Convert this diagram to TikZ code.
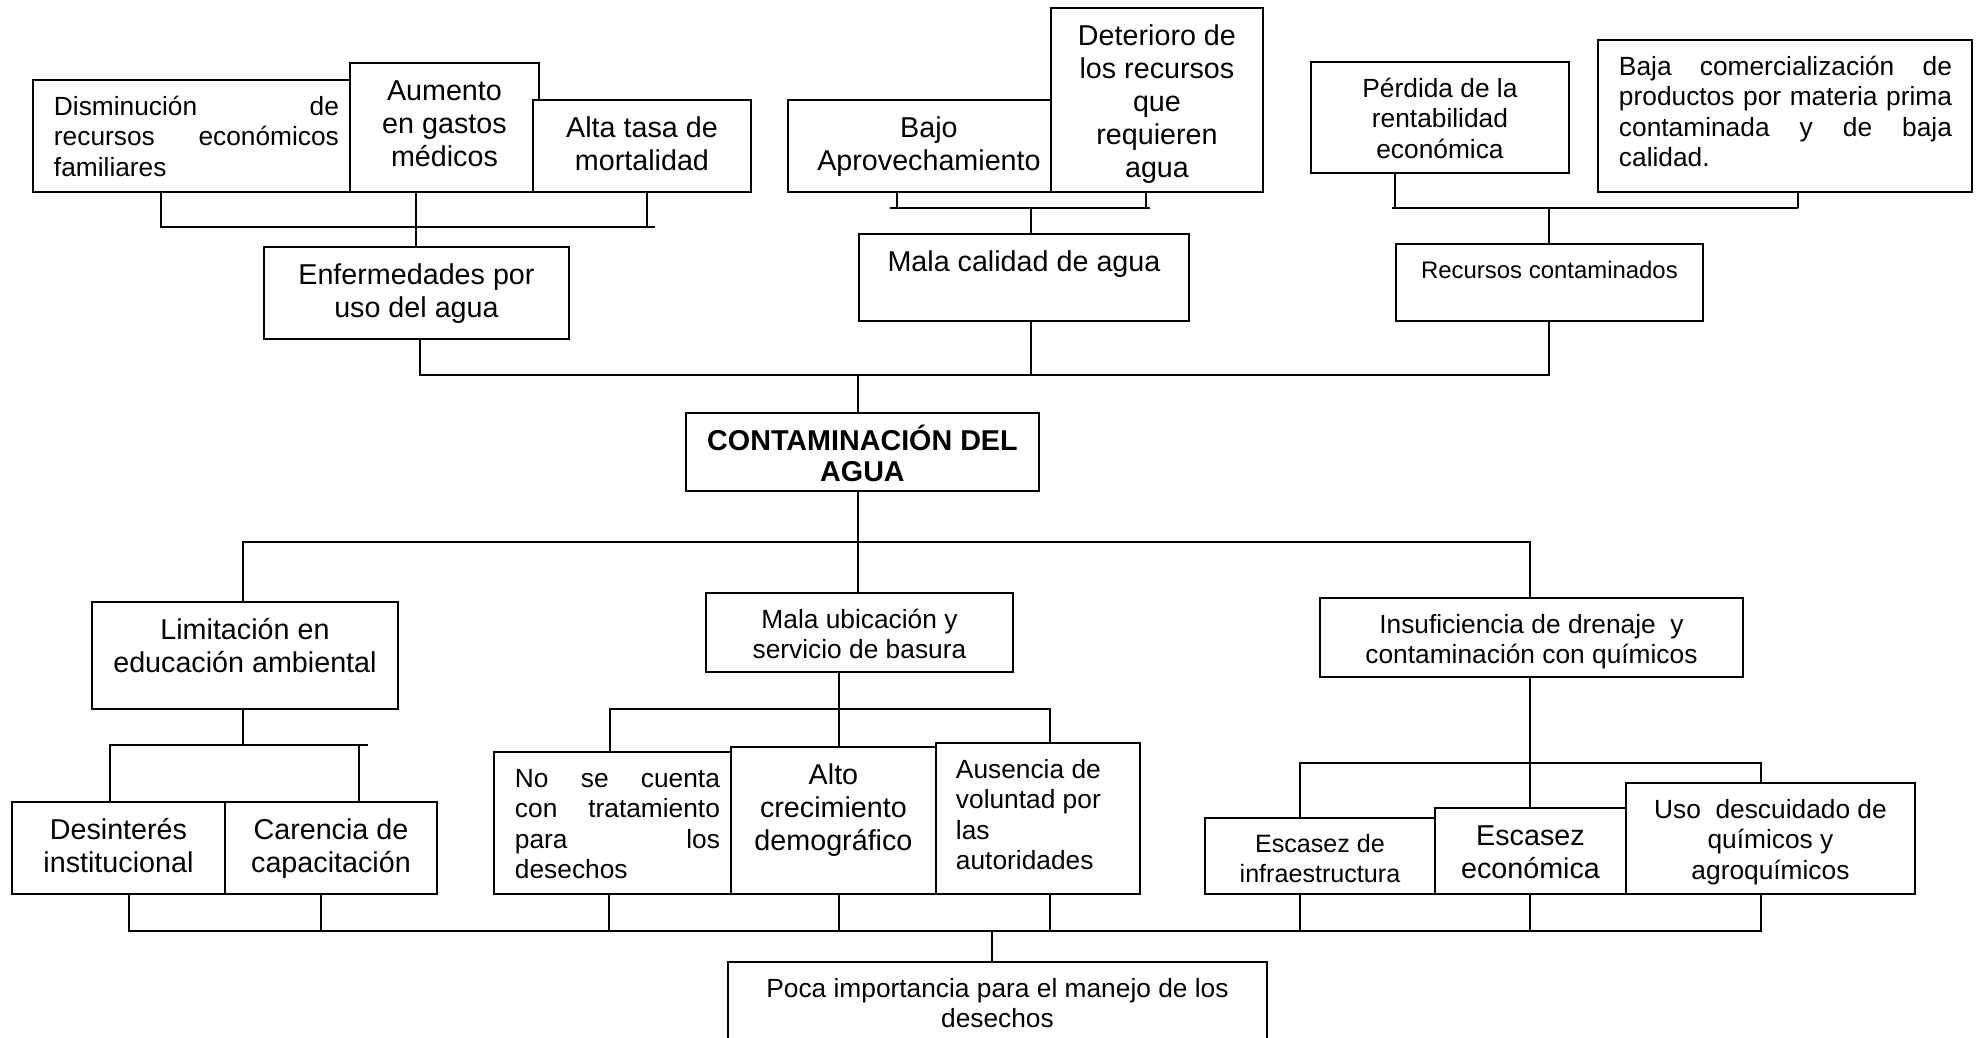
\documentclass[tikz,border=0pt]{standalone}
\usepackage{fontspec}
\setmainfont{Liberation Sans}
\newlength{\px}
\setlength{\px}{0.418pt}
\newcommand{\cbox}[3]{\parbox[c][#2\px][t]{#1\px}{\centering\rule{0pt}{\dimexpr17\px+0.716em\relax}#3}}
\newcommand{\jbox}[5]{\parbox[c][#2\px][t]{#1\px}{\hspace*{#3\px}\parbox[t]{#4\px}{\rule{0pt}{\dimexpr17\px+0.716em\relax}#5}}}

\begin{document}
\begin{tikzpicture}[
    x=0.418pt, y=-0.418pt,
    line width=0.8pt,
    box/.style={draw, fill=white, inner sep=0pt, anchor=north west},
    bigtext/.style={font=\fontsize{12}{13.8}\selectfont},
    midtext/.style={font=\fontsize{11}{12.6}\selectfont},
    smalltext/.style={font=\fontsize{10.5}{12.5}\selectfont},
    tinytext/.style={font=\fontsize{10}{12.5}\selectfont},
    titletext/.style={font=\fontsize{12}{13}\selectfont\bfseries}
]
\clip (0,0) rectangle (1978,1037);

\node[box, midtext] (disminucion) at (32,79) {\jbox{326}{112}{21}{285}{Disminución\hfill de\\recursos\hfill económicos\\familiares}};
\node[box, bigtext] (aumento_gastos) at (349,62) {\cbox{189}{129}{Aumento\\en gastos\\médicos}};
\node[box, bigtext] (alta_mortalidad) at (532,99) {\cbox{218}{92}{Alta tasa de\\mortalidad}};
\node[box, bigtext] (enfermedades) at (263,246) {\cbox{305}{92}{Enfermedades por\\uso del agua}};

\node[box, bigtext] (bajo_aprov) at (787,99) {\cbox{282}{92}{Bajo\\Aprovechamiento}};
\node[box, bigtext] (deterioro) at (1050,7) {\cbox{212}{184}{Deterioro de\\los recursos\\que\\requieren\\agua}};
\node[box, bigtext] (mala_calidad) at (858,233) {\cbox{330}{87}{Mala calidad de agua}};

\node[box, midtext] (perdida) at (1310,61) {\cbox{258}{111}{Pérdida de la\\rentabilidad\\económica}};
\node[box, midtext] (baja_comerc) at (1597,39) {\jbox{374}{152}{21}{333}{Baja\hfill comercialización\hfill de\\productos\hfill por\hfill materia\hfill prima\\contaminada\hfill y\hfill de\hfill baja\\calidad.}};
\node[box, tinytext] (recursos) at (1395,243) {\cbox{307}{77}{Recursos contaminados}};

\node[box, titletext] (problema) at (685,412) {\cbox{353}{78}{CONTAMINACIÓN DEL\\AGUA}};

\node[box, bigtext] (limitacion) at (91,601) {\cbox{306}{107}{Limitación en\\educación ambiental}};
\node[box, midtext] (mala_ubicacion) at (705,592) {\cbox{307}{79}{Mala ubicación y\\servicio de basura}};
\node[box, midtext] (insuficiencia) at (1319,597) {\cbox{423}{79}{Insuficiencia de drenaje\ \ y\\contaminación con químicos}};

\node[box, bigtext] (desinteres) at (11,801) {\cbox{213}{92}{Desinterés\\institucional}};
\node[box, bigtext] (carencia) at (224,801) {\cbox{212}{92}{Carencia de\\capacitación}};
\node[box, midtext] (sin_tratamiento) at (493,751) {\jbox{237}{142}{21}{205}{No\hfill se\hfill cuenta\\con\hfill tratamiento\\para\hfill los\\desechos}};
\node[box, bigtext] (crecimiento) at (730,746) {\cbox{205}{147}{Alto\\crecimiento\\demográfico}};
\node[box, midtext] (ausencia) at (935,742) {\jbox{204}{151}{20}{180}{Ausencia de\\voluntad por\\las\\autoridades}};
\node[box, smalltext] (escasez_infra) at (1204,817) {\cbox{230}{76}{Escasez de\\infraestructura}};
\node[box, bigtext] (escasez_econ) at (1434,807) {\cbox{191}{86}{Escasez\\económica}};
\node[box, midtext] (uso_quimicos) at (1625,782) {\cbox{289}{111}{Uso\ \ descuidado de\\químicos y\\agroquímicos}};

\node[box, midtext] (poca_importancia) at (727,961) {\cbox{539}{100}{Poca importancia para el manejo de los\\desechos}};

\coordinate (e1) at (161,227);
\coordinate (e2) at (416,227);
\coordinate (e3) at (647,227);
\coordinate (e4) at (655,227);
\draw (disminucion.south -| e1) |- (e4);
\draw (alta_mortalidad.south -| e3) -- (e3);
\draw (aumento_gastos.south -| e2) -- (enfermedades.north -| e2);

\coordinate (m0) at (890,208);
\coordinate (m1) at (897,208);
\coordinate (m2) at (1031,208);
\coordinate (m3) at (1146,208);
\coordinate (m4) at (1150,208);
\draw (m0) -- (m4);
\draw (bajo_aprov.south -| m1) -- (m1);
\draw (deterioro.south -| m3) -- (m3);
\draw (m2) -- (mala_calidad.north -| m2);

\coordinate (r0) at (1392,208);
\coordinate (r1) at (1395,208);
\coordinate (r2) at (1549,208);
\coordinate (r3) at (1798,208);
\draw (r0) -- (r3);
\draw (perdida.south -| r1) -- (r1);
\draw (baja_comerc.south -| r3) -- (r3);
\draw (r2) -- (recursos.north -| r2);

\coordinate (t1) at (420,375);
\coordinate (t2) at (858,375);
\coordinate (t3) at (1031,375);
\coordinate (t4) at (1549,375);
\draw (enfermedades.south -| t1) |- (t4) -- (recursos.south -| t4);
\draw (mala_calidad.south -| t3) -- (t3);
\draw (t2) -- (problema.north -| t2);

\coordinate (c1) at (243,542);
\coordinate (c2) at (858,542);
\coordinate (c3) at (1530,542);
\draw (limitacion.north -| c1) |- (c3) -- (insuficiencia.north -| c3);
\draw (problema.south -| c2) -- (mala_ubicacion.north -| c2);

\coordinate (l1) at (110,745);
\coordinate (l2) at (243,745);
\coordinate (l3) at (359,745);
\coordinate (l4) at (368,745);
\draw (limitacion.south -| l2) -- (l2);
\draw (desinteres.north -| l1) |- (l4);
\draw (l3) -- (carencia.north -| l3);

\coordinate (u1) at (610,709);
\coordinate (u2) at (839,709);
\coordinate (u3) at (1050,709);
\draw (sin_tratamiento.north -| u1) |- (u3) -- (ausencia.north -| u3);
\draw (mala_ubicacion.south -| u2) -- (crecimiento.north -| u2);

\coordinate (i1) at (1300,763);
\coordinate (i2) at (1530,763);
\coordinate (i3) at (1761,763);
\draw (escasez_infra.north -| i1) |- (i3) -- (uso_quimicos.north -| i3);
\draw (insuficiencia.south -| i2) -- (escasez_econ.north -| i2);

\coordinate (b1) at (129,931);
\coordinate (b2) at (321,931);
\coordinate (b3) at (609,931);
\coordinate (b4) at (839,931);
\coordinate (b5) at (992,931);
\coordinate (b6) at (1050,931);
\coordinate (b7) at (1300,931);
\coordinate (b8) at (1530,931);
\coordinate (b9) at (1761,931);
\draw (desinteres.south -| b1) |- (b9) -- (uso_quimicos.south -| b9);
\draw (carencia.south -| b2) -- (b2);
\draw (sin_tratamiento.south -| b3) -- (b3);
\draw (crecimiento.south -| b4) -- (b4);
\draw (ausencia.south -| b6) -- (b6);
\draw (escasez_infra.south -| b7) -- (b7);
\draw (escasez_econ.south -| b8) -- (b8);
\draw (b5) -- (poca_importancia.north -| b5);

\end{tikzpicture}
\end{document}
